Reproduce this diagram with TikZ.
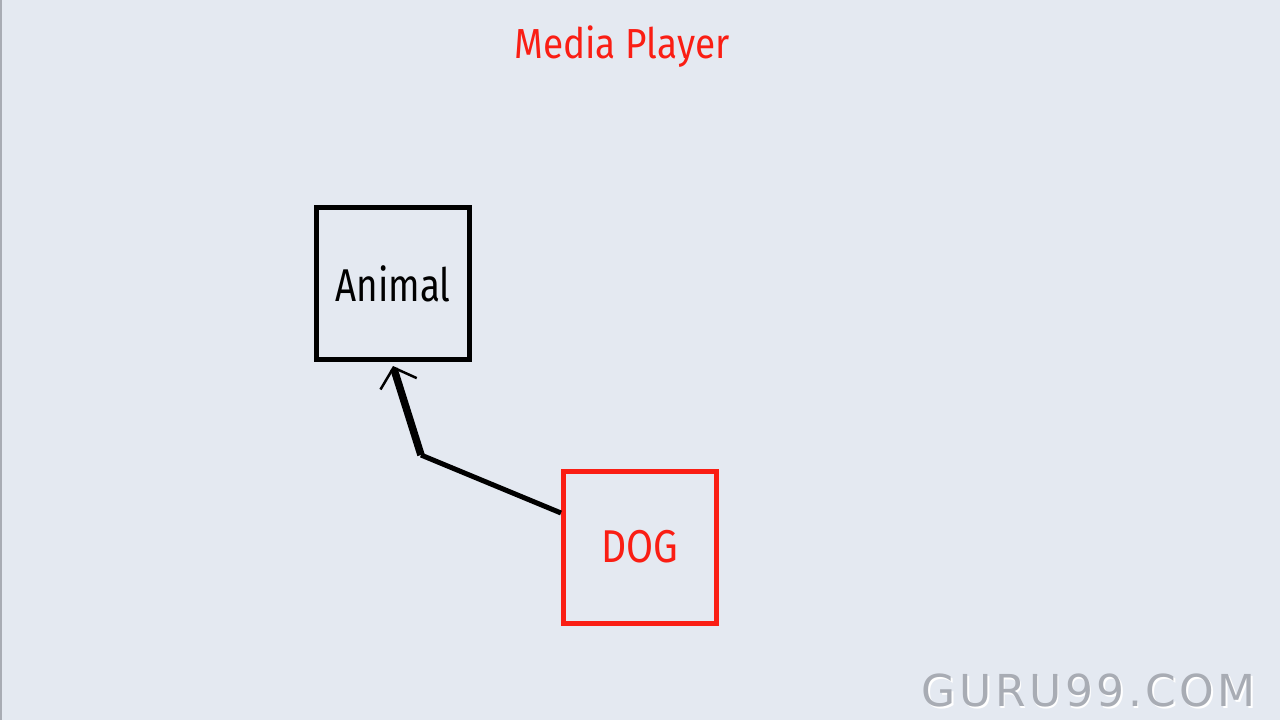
\documentclass[tikz,border=0pt]{standalone}
\usepackage{fontspec}
\setmainfont{Fira Sans}
\newfontfamily\wmfont[LetterSpace=8]{DejaVu Sans}
\usetikzlibrary{arrows.meta}
\definecolor{bg}{HTML}{E4E9F1}
\definecolor{myred}{RGB}{250,30,20}
\definecolor{wmgray}{HTML}{A8ACB4}
\tikzset{
  box/.style={draw, line width=5.5pt, minimum width=153pt, minimum height=152pt, inner sep=0pt},
  lbl/.style={font=\fontsize{46}{50}\selectfont},
}
\begin{document}
\begin{tikzpicture}[x=1pt,y=-1pt]
\fill[bg] (0,0) rectangle (1280,720);
\useasboundingbox (0,0) rectangle (1280,720);
\draw[line width=1.5pt, wmgray] (1,0) -- (1,720);
\node[myred, font=\fontsize{42}{46}\selectfont] (title) at (622,47) {\scalebox{0.88}[1]{Media Player}};
\node[box, black, lbl] (animal) at (393,283.5) {\scalebox{0.8}[1]{Animal}};
\node[box, myred, line width=5pt, text=myred, lbl] (dog) at (640,547) {\scalebox{0.85}[1]{DOG}};
\coordinate (bend) at (421,455);
\draw[line width=5pt, line join=round] (dog.west |- 0,513) -- (bend);
\draw[line width=7.5pt, -{Straight Barb[length=17pt,width=38pt,line width=2.5pt]}] (bend) -- (393,366);
\node[anchor=east, font=\wmfont\fontsize{44}{46}\selectfont, text=white] (wm2) at (1261,692) {GURU99.COM};
\node[anchor=east, font=\wmfont\fontsize{44}{46}\selectfont, text=wmgray] (wm) at (1259.5,690.5) {GURU99.COM};
\end{tikzpicture}
\end{document}
